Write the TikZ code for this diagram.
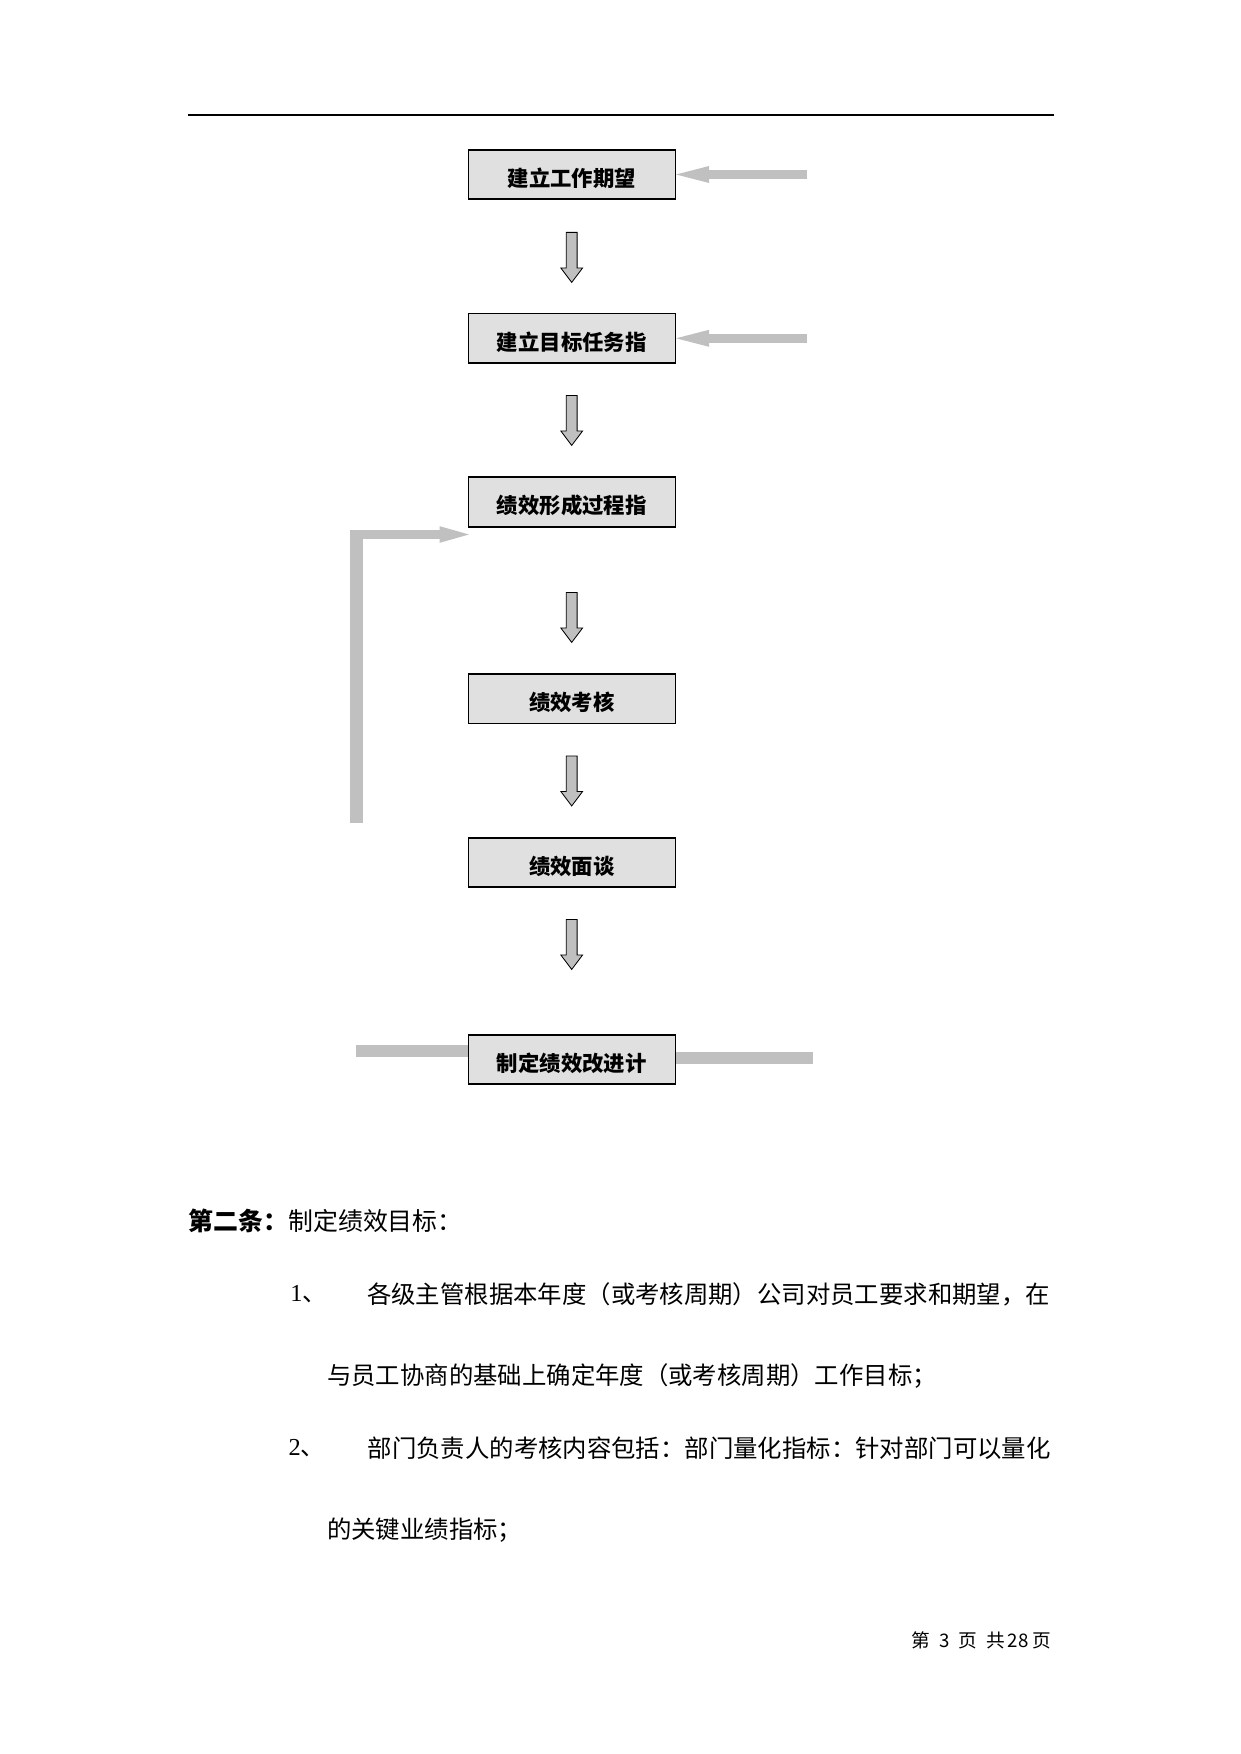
\documentclass[tikz,border=0pt]{standalone}
\usepackage{fontspec}
\setmainfont{Liberation Serif}
\newfontfamily\cjk{Noto Sans CJK SC}
\usetikzlibrary{arrows.meta,shapes.arrows}

\newlength{\px}
\setlength{\px}{0.4818pt}

\definecolor{boxgray}{rgb}{0.878,0.878,0.878}
\definecolor{bargray}{rgb}{0.753,0.753,0.753}

\tikzset{
  stepbox/.style={draw=black, line width=0.75pt, fill=boxgray,
    minimum width=207\px, minimum height=49.5\px, inner sep=0pt,
    text height=13.5pt, text depth=2pt,
    font={\fontsize{10.3pt}{12pt}\cjk\bfseries}},
  downarr/.style={single arrow, draw=black, line width=0.4pt, fill=bargray,
    shape border rotate=270, minimum height=50\px, minimum width=0pt,
    inner sep=5\px, single arrow head extend=5.5\px,
    single arrow tip angle=74, anchor=tail},
  graybar/.style={draw=bargray, line cap=butt},
  sidearrow/.style={graybar, line width=8.5\px,
    -{Triangle[length=15.9pt,width=8.2pt,line width=0pt]}},
  feedarrow/.style={graybar, line width=9\px,
    -{Triangle[length=14.2pt,width=8.05pt,line width=0pt]}},
  bodytext/.style={anchor=west, inner sep=0pt,
    font={\fontsize{11.75pt}{14pt}\cjk}},
  foottext/.style={anchor=east, inner sep=0pt,
    font={\fontsize{9pt}{11pt}\cjk}}
}

\begin{document}
\begin{tikzpicture}
\pgftransformxscale{1.000000}
\pgftransformyscale{-1.000000}
\useasboundingbox (0\px,0\px) rectangle (1240\px,1754\px);
% header rule
\draw[line width=0.8pt] (188\px,115\px) -- (1054\px,115\px);
% steps
\node[stepbox] (b1) at (571.8\px,174.5\px) {建立工作期望};
\node[stepbox] (b2) at (571.8\px,338.3\px) {建立目标任务指};
\node[stepbox] (b3) at (571.8\px,502\px) {绩效形成过程指};
\node[stepbox] (b4) at (571.8\px,698.7\px) {绩效考核};
\node[stepbox] (b5) at (571.8\px,862.5\px) {绩效面谈};
\node[stepbox] (b6) at (571.8\px,1059.5\px) {制定绩效改进计};
% block arrows between the steps
\node[downarr] (d1) at (571.7\px,232\px) {};
\node[downarr] (d2) at (571.7\px,395\px) {};
\node[downarr] (d3) at (571.7\px,592\px) {};
\node[downarr] (d4) at (571.7\px,755.5\px) {};
\node[downarr] (d5) at (571.7\px,919\px) {};
% incoming arrows on the right
\coordinate (in1) at (806.7\px,174.5\px);
\coordinate (in2) at (806.7\px,338.3\px);
\draw[sidearrow] (in1) -- (b1.east);
\draw[sidearrow] (in2) -- (b2.east);
% feedback loop
\coordinate (fb0) at (356.3\px,822.7\px);
\coordinate (fb1) at (356.3\px,530\px);
\coordinate (fb2) at (350\px,534.5\px);
\coordinate (fb3) at (469\px,534.5\px);
\draw[graybar, line width=12.5\px] (fb0) -- (fb1);
\draw[feedarrow] (fb2) -- (fb3);
% bars at the last step
\coordinate (out1) at (356\px,1051.2\px);
\coordinate (out2) at (813.3\px,1058.3\px);
\draw[graybar, line width=12.3\px] (out1) -- (out1 -| b6.west);
\draw[graybar, line width=12\px] (b6.east |- out2) -- (out2);
% text below
\node[bodytext, font={\fontsize{12pt}{14pt}\cjk}] (art) at (188.3\px,1221\px) {{\bfseries 第二条：}制定绩效目标：};
\node[bodytext] (n1) at (290\px,1294\px) {{\rmfamily 1}、};
\node[bodytext] (l1) at (366.7\px,1294\px) {各级主管根据本年度（或考核周期）公司对员工要求和期望，在};
\node[bodytext] (l2) at (326.7\px,1376\px) {与员工协商的基础上确定年度（或考核周期）工作目标；};
\node[bodytext] (n2) at (288.3\px,1448\px) {{\rmfamily 2}、};
\node[bodytext] (l3) at (367.3\px,1448\px) {部门负责人的考核内容包括：部门量化指标：针对部门可以量化};
\node[bodytext] (l4) at (326.7\px,1530\px) {的关键业绩指标；};
\node[foottext] (pg) at (1051.7\px,1640\px) {第\hspace{4.5pt}3\hspace{4.5pt}页\hspace{4.5pt}共\hspace{1pt}28\hspace{2pt}页};
\end{tikzpicture}
\end{document}
